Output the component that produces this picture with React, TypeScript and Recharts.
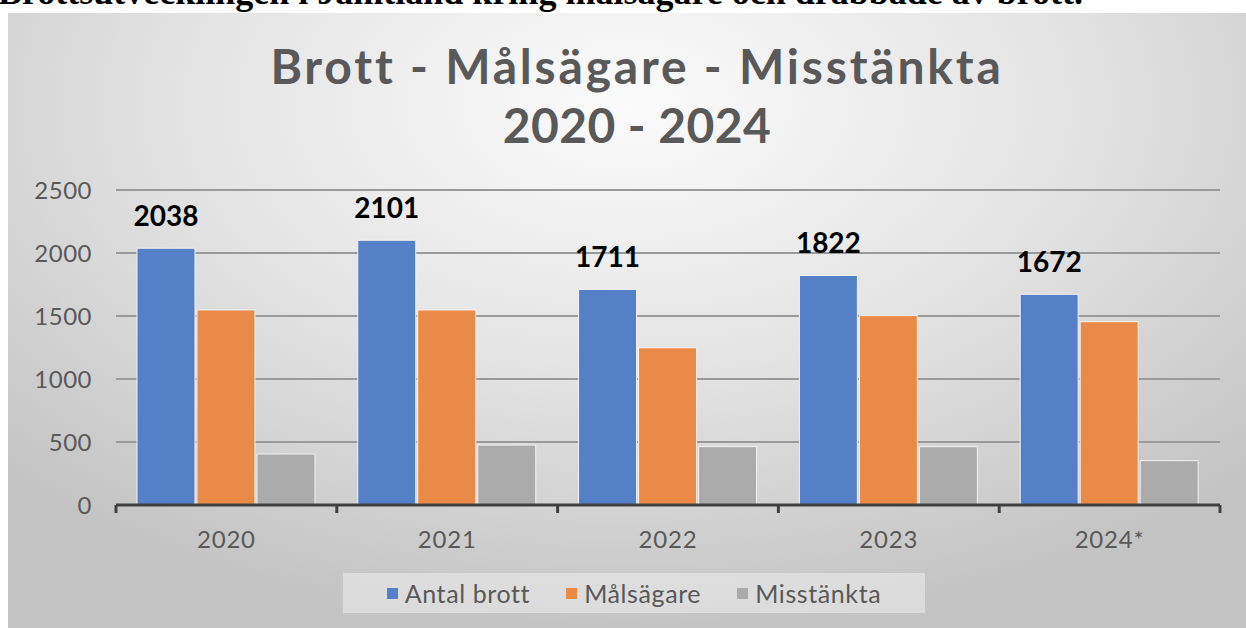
import React from "react";
import { BarChart, Bar, XAxis, YAxis, CartesianGrid, Legend, LabelList } from "recharts";

const years = ["2020", "2021", "2022", "2023", "2024*"];
const antalBrott = [2038, 2101, 1711, 1822, 1672];
const malsagare = [1548, 1548, 1248, 1503, 1455];
const misstankta = [405, 476, 463, 463, 352];
const yTicks = [0, 500, 1000, 1500, 2000, 2500];

const seriesInfo = [
  { key: "antal", name: "Antal brott", color: "#5580c8" },
  { key: "mal", name: "Målsägare", color: "#ea8a48" },
  { key: "miss", name: "Misstänkta", color: "#ababab" },
];

const data = years.map((year, i) => ({
  year,
  antal: antalBrott[i],
  mal: malsagare[i],
  miss: misstankta[i],
}));

const font = "Lato, 'Open Sans', sans-serif";
const xTickMargin = 26;

// year label plus the small tick marks on the category boundaries
const YearTick = (props: any) => {
  const { x, y, payload, width, visibleTicksCount, index } = props;
  const band = width / visibleTicksCount;
  const axisY = y - xTickMargin;
  const mark = (mx: number) => (
    <line x1={mx} x2={mx} y1={axisY} y2={axisY + 8} stroke="#404040" strokeWidth={3} />
  );
  return (
    <g>
      {mark(x - band / 2)}
      {index === visibleTicksCount - 1 && mark(x + band / 2)}
      <text
        x={x}
        y={y}
        dy="0.71em"
        textAnchor="middle"
        fill="#595959"
        fontSize={24}
        fontFamily={font}
        letterSpacing={0.8}
      >
        {payload.value}
      </text>
    </g>
  );
};

// legend drawn from the payload, kept in series order
const renderLegend = (props: any) => {
  const items = seriesInfo
    .map((s) => (props.payload || []).find((p: any) => p.value === s.name))
    .filter(Boolean);
  return (
    <div
      style={{
        display: "flex",
        justifyContent: "center",
        alignItems: "center",
        height: "100%",
        gap: 36,
        fontFamily: font,
        fontSize: 25,
        letterSpacing: 0.6,
        color: "#595959",
      }}
    >
      {items.map((p: any) => (
        <div key={p.value} style={{ display: "flex", alignItems: "center" }}>
          <span style={{ width: 11, height: 11, background: p.color, marginRight: 7, display: "inline-block" }} />
          <span>{p.value}</span>
        </div>
      ))}
    </div>
  );
};

export default function App() {
  return (
    <div style={{ position: "absolute", left: 0, top: 0, width: 1246, height: 628, overflow: "hidden", background: "#fff" }}>
      <div
        style={{
          position: "absolute",
          left: -2,
          top: -29,
          whiteSpace: "nowrap",
          fontFamily: "'Liberation Serif', serif",
          fontWeight: "bold",
          fontSize: 36,
          lineHeight: "42px",
          color: "#000",
        }}
      >
        Brottsutvecklingen i Jämtland kring målsägare och drabbade av brott.
      </div>
      <div
        style={{
          position: "absolute",
          left: 8,
          top: 13,
          width: 1238,
          height: 615,
          background: "radial-gradient(ellipse 70% 85% at 50% 15%, #fbfbfb 0%, #e4e4e4 50%, #c4c4c4 100%)",
        }}
      />
      <div
        style={{
          position: "absolute",
          left: 237,
          top: 36,
          width: 800,
          textAlign: "center",
          fontFamily: font,
          fontWeight: "bold",
          fontSize: 48,
          lineHeight: "59px",
          color: "#595959",
        }}
      >
        <div style={{ letterSpacing: 2.8 }}>Brott - Målsägare - Misstänkta</div>
        <div style={{ letterSpacing: 0.4 }}>2020 - 2024</div>
      </div>
      <div style={{ position: "absolute", left: 0, top: 0 }}>
        <BarChart
          width={1246}
          height={628}
          data={data}
          margin={{ top: 190, right: 26, bottom: 53, left: 0 }}
          barCategoryGap="9.5%"
          barGap={2}
        >
          <CartesianGrid vertical={false} stroke="#9a9a9a" strokeWidth={2} />
          <XAxis
            dataKey="year"
            height={30}
            axisLine={{ stroke: "#404040", strokeWidth: 3 }}
            tickLine={false}
            tickSize={0}
            tickMargin={xTickMargin}
            interval={0}
            tick={<YearTick />}
          />
          <YAxis
            domain={[0, 2500]}
            ticks={yTicks}
            width={116}
            axisLine={false}
            tickLine={false}
            tickSize={0}
            tickMargin={24}
            tick={{ fill: "#595959", fontSize: 24, fontFamily: font, letterSpacing: 0.5 }}
          />
          <Legend
            verticalAlign="bottom"
            content={renderLegend}
            wrapperStyle={{
              left: 343,
              top: 573,
              width: 582,
              height: 40,
              background: "rgba(235,235,235,0.6)",
            }}
          />
          {seriesInfo.map((s) => (
            <Bar
              key={s.key}
              dataKey={s.key}
              name={s.name}
              fill={s.color}
              stroke="#f4f4f4"
              strokeWidth={1}
              isAnimationActive={false}
            >
              {s.key === "antal" && (
                <LabelList
                  dataKey="antal"
                  position="top"
                  offset={22}
                  fill="#000"
                  fontSize={28}
                  fontWeight="bold"
                  fontFamily={font}
                />
              )}
            </Bar>
          ))}
        </BarChart>
      </div>
    </div>
  );
}
